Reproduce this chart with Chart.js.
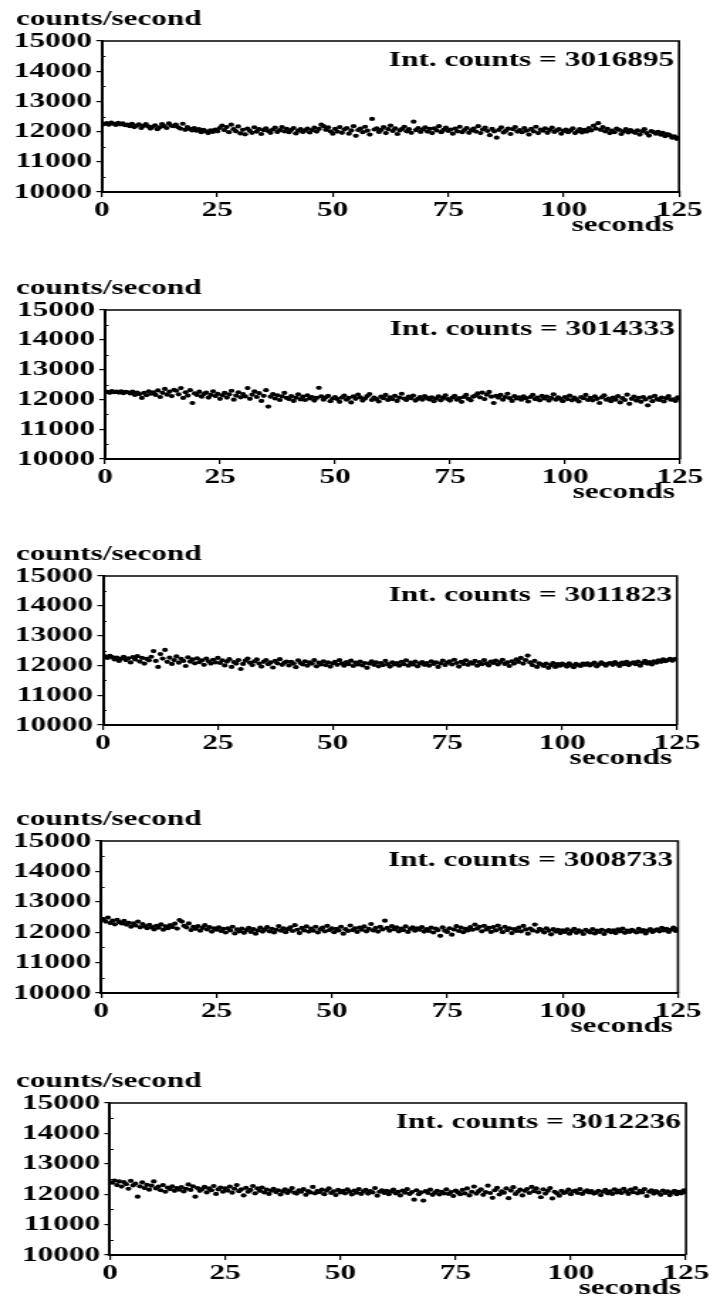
<!DOCTYPE html>
<html>
<head>
<meta charset="utf-8">
<script src="https://cdn.jsdelivr.net/npm/chart.js@4.4.1/dist/chart.umd.min.js"></script>
<style>
  html, body { margin: 0; padding: 0; background: #fff; }
  body { width: 712px; height: 1303px; position: relative; overflow: hidden; }
  .panel { position: absolute; left: 0; transform-origin: 0 0; }
</style>
</head>
<body>
<script>
// counts/second, two readings per second (0.5 s apart)
const run1 = [
  12250,12280,12230,12300,12260,12220,12290,12240,12270,12210,
  12230,12180,12260,12150,12200,12240,12120,12190,12250,12170,
  12100,12160,12210,12080,12140,12250,12180,12120,12270,12200,
  12180,12230,12140,12100,12260,12060,12150,12090,12040,12120,
  12030,12080,11980,12060,12010,11950,12040,11990,12070,12010,
  12120,12200,12050,12150,11980,12230,12080,12010,12170,11940,
  12060,11910,12100,12030,11960,12140,12000,12080,11920,12050,
  12110,12020,11960,12070,12130,11990,12050,12150,12010,12090,
  11980,12060,12120,11940,12030,12080,11990,12040,12100,11970,
  12050,12130,12000,12090,12230,12180,12060,12140,12010,11930,
  12090,12000,12150,11960,12070,12120,11930,12040,12180,11860,
  12050,12100,11980,12160,12030,11900,12420,12070,12110,11990,
  12060,12150,11950,12080,12200,12020,12110,11920,12040,12090,
  12160,12010,12080,11960,12330,12050,12120,11990,12070,12140,
  12000,12090,11950,12110,12040,12180,11980,12060,12130,12020,
  12070,11930,12100,12010,12160,11980,12050,12120,11960,12040,
  12100,12000,12180,11950,12070,12130,12020,11880,12090,12010,
  11800,12060,12140,11970,12030,12100,11920,12080,12150,12000,
  12050,11980,12120,12030,11900,12090,12010,12160,11950,12070,
  12030,12110,11960,12060,12130,11990,12040,12080,11930,12020,
  12070,11980,12040,12110,11950,12010,12080,11970,12060,12000,
  12120,12040,12200,12100,12280,12060,12150,12010,12090,11950,
  12030,11980,12100,12060,11920,12010,12080,11970,12050,12000,
  11960,12040,11900,12010,12080,11950,11870,12020,11980,11930,
  11990,11900,11960,11850,11920,11880,11800,11840,11760,11790
];
const run2 = [
  12250,12220,12280,12240,12260,12230,12270,12210,12250,12240,
  12200,12260,12150,12230,12180,12050,12220,12140,12270,12190,
  12240,12150,12300,12080,12220,12350,12160,12260,12110,12320,
  12290,12170,12380,12050,12240,12130,12310,11880,12200,12150,
  12260,12090,12180,12230,12060,12150,12270,12110,12190,12020,
  12140,12220,12060,12170,12290,11990,12130,12240,12070,12180,
  12100,12380,12020,12160,12270,12080,12210,11950,12120,12310,
  11760,12090,12180,12030,12140,11980,12100,12220,12050,12010,
  12110,11950,12060,12170,12000,12090,11980,12140,12030,12080,
  11960,12050,12390,12100,11990,12070,12120,11940,12030,12080,
  12010,11920,12060,12130,11990,12050,11900,12100,12020,12160,
  12070,11960,12030,12110,12180,11980,12060,12010,11930,12090,
  12040,12150,11980,12070,12010,12120,11950,12060,12190,12030,
  11980,12090,12040,12130,11960,12020,12080,11990,12110,12050,
  12000,12070,11940,12030,12100,11970,12050,12140,12010,11960,
  12060,12120,11990,12040,11920,12080,12150,12020,11970,12090,
  12130,12200,12070,12230,12010,12160,12250,12090,11880,12120,
  12060,12150,11990,12080,12190,12040,11950,12110,12030,12070,
  11990,12100,12040,11930,12080,12150,12010,12060,11970,12120,
  12030,12090,11960,12050,12170,11990,12070,12020,11940,12080,
  12010,12130,11970,12060,12000,11930,12080,12040,12150,11980,
  12050,11970,12100,12020,11880,12070,12140,11990,12030,11940,
  12060,11990,12110,11900,12040,11980,12160,11850,12020,12090,
  11960,12050,11920,12080,12000,11800,12070,11940,12120,12010,
  11980,12060,11930,12040,12110,11990,12000,11950,12070,12020
];
const run3 = [
  12300,12250,12320,12280,12200,12260,12150,12230,12290,12180,
  12240,12100,12280,12200,12310,12130,12250,12060,12220,12170,
  12290,12480,12150,11950,12380,12230,12520,12120,12260,12050,
  12180,12300,12090,12220,12150,11980,12270,12130,12200,12070,
  12240,12110,12170,12020,12230,12140,12060,12190,12100,12250,
  12080,12170,12000,12130,12210,11950,12110,12060,12180,11880,
  12050,12160,12230,12090,12010,12140,12200,12060,11960,12120,
  12180,12040,12100,11930,12150,12070,12210,12020,12090,12130,
  12000,12120,12060,11940,12170,12080,12030,12140,11990,12100,
  12060,12180,11970,12090,12030,12140,12010,12100,11960,12070,
  12120,12020,12180,12070,11990,12110,12040,12160,11980,12090,
  12030,12130,12000,12080,11920,12060,12140,12020,12100,11970,
  12080,12010,12150,12040,11960,12100,12030,12080,11990,12120,
  12040,12170,11990,12090,12030,12130,11970,12060,12110,12020,
  12080,11990,12140,12050,12100,11950,12070,12160,12010,12090,
  12140,12030,12190,12080,11960,12120,12050,12170,12020,12100,
  12060,12150,11990,12110,12040,12180,12070,12000,12130,12080,
  12160,12030,12110,12190,12050,12100,11980,12140,12060,12200,
  12120,12250,12060,12180,12330,12100,12010,12150,11950,12070,
  12030,11980,12060,11920,12010,12080,11950,12040,11990,12060,
  12020,11960,12070,12000,11940,12050,12010,11980,12060,12020,
  12070,12000,12040,12090,11970,12030,12100,12050,11990,12060,
  12080,12020,12110,12050,11980,12090,12040,12120,12010,12070,
  12100,12040,12130,11990,12080,12150,12060,12110,12030,12140,
  12090,12170,12120,12200,12140,12180,12220,12160,12210,12230
];
const run4 = [
  12420,12350,12480,12300,12380,12260,12410,12330,12290,12370,
  12250,12310,12180,12290,12220,12350,12160,12270,12200,12130,
  12240,12170,12090,12210,12150,12260,12080,12190,12130,12230,
  12170,12280,12120,12400,12350,12210,12160,12290,12070,12180,
  12110,12200,12050,12140,12230,12090,12170,12020,12130,12080,
  12160,12040,12110,11990,12130,12060,12180,11960,12090,12030,
  12120,11980,12070,12140,12010,12100,11950,12060,12150,12020,
  12090,12170,12030,12110,11990,12080,12200,12050,12130,12000,
  12100,12160,12040,12230,12080,11970,12140,12060,12190,12020,
  12120,12050,12180,11990,12090,12150,12030,12210,12070,12130,
  12000,12110,12060,12180,11950,12100,12040,12220,12070,12130,
  12010,12150,12080,12190,12030,12110,12270,12060,12140,12020,
  12180,12090,12380,12140,12050,12200,12100,12160,12030,12120,
  12070,12190,12010,12110,12160,12050,12130,12080,12170,12020,
  12100,12040,12150,11990,12120,12070,11880,12160,12050,12010,
  12130,11920,12090,12200,12040,12150,12000,12110,12060,12170,
  12080,12250,12120,12180,12030,12210,12090,12140,12010,12170,
  12060,12220,12110,12000,12180,12070,12130,11970,12100,12040,
  12150,12030,12210,12090,11950,12120,12060,12250,12020,12110,
  12070,11990,12130,12050,11930,12100,12020,12080,11970,12060,
  12010,12090,11950,12040,12110,11980,12060,12020,11940,12080,
  12030,11990,12100,11960,12050,12010,12080,11940,12040,12070,
  12000,12060,11970,12090,12030,12120,11980,12050,12010,12080,
  12040,11990,12110,12020,12070,11960,12050,12100,12010,12060,
  12090,12030,12140,12060,12110,12010,12080,12150,12040,12100
];
const run5 = [
  12380,12450,12300,12420,12250,12400,12330,12180,12440,12290,
  12350,11920,12260,12390,12200,12310,12150,12280,12420,12190,
  12250,12130,12300,12080,12220,12170,12260,12110,12200,12150,
  12230,12090,12180,12320,12140,12260,11920,12200,12110,12170,
  12240,12060,12190,12130,12270,12010,12160,12220,12080,12190,
  12120,12250,12050,12180,12300,12100,12160,11960,12210,12080,
  12140,12270,12030,12190,12110,12220,12060,12150,12010,12120,
  12180,12070,12130,11990,12090,12160,12040,12110,12200,12050,
  12020,12130,12080,12170,11980,12100,12060,12240,12030,12110,
  12070,12150,12000,12120,12190,12040,12090,11970,12140,12060,
  12110,12030,12160,12080,11990,12120,12050,12170,12010,12090,
  12140,12020,12100,12060,12200,11950,12080,12130,12040,12110,
  12000,12090,12150,12030,12080,11960,12120,12050,12170,12010,
  12070,11820,12130,12000,12060,11790,12100,12040,12150,11980,
  12050,12110,11990,12080,12030,12160,12010,12070,11940,12120,
  12060,12000,12140,12030,12190,11960,12080,12250,12020,12100,
  12160,11980,12070,12280,12040,11880,12130,12210,11990,12090,
  12050,12190,11870,12120,12230,12010,12080,12150,11960,12110,
  12170,12040,12240,12100,12190,12060,11900,12160,12020,12110,
  12200,11860,12080,12030,11950,12110,12040,12070,12150,12000,
  12090,12120,12040,12170,12010,12080,12130,12060,12100,12020,
  12050,12110,11970,12080,12140,12030,12090,12010,12160,12060,
  12120,12040,12180,12090,12010,12150,12070,12200,12030,12110,
  12060,12170,11940,12080,12130,12020,12100,12050,11980,12120,
  12040,12090,11970,12060,12110,12000,12080,12030,12130,12070
];

const runs = [run1, run2, run3, run4, run5];
const intCounts = [3016895, 3014333, 3011823, 3008733, 3012236];
const yTicks = [10000, 11000, 12000, 13000, 14000, 15000];
const xTicks = [0, 25, 50, 75, 100, 125];
const yLabel = 'counts/second';
const xLabel = 'seconds';

// the scan is stretched sideways, so every panel is drawn narrow and widened
const STRETCH = 1.42;
// plot frame of each panel in page pixels: left, right, top, bottom
const frames = [
  [102, 679, 41, 192],
  [105, 680, 310, 459],
  [103, 677, 576, 725],
  [101, 678, 841, 993],
  [110, 686, 1103, 1255]
];

const FONT = { family: '"Liberation Serif", "DejaVu Serif", serif', size: 22, weight: 'bold' };
const ink = '#000';

// texts and frame lines that Chart.js has no slot for
const panelDecor = {
  id: 'panelDecor',
  afterDraw(chart, args, opts) {
    const { ctx, chartArea: a } = chart;
    const yScale = chart.scales.y;
    ctx.save();
    ctx.strokeStyle = ink;
    ctx.lineWidth = 1.6;
    ctx.beginPath();
    ctx.moveTo(a.left, a.top);
    ctx.lineTo(a.right, a.top);
    ctx.lineTo(a.right, a.bottom);
    ctx.stroke();
    // small inward ticks between the labelled ones
    ctx.lineWidth = 1;
    ctx.beginPath();
    for (let v = 10500; v < 15000; v += 1000) {
      const py = Math.round(yScale.getPixelForValue(v)) + 0.5;
      ctx.moveTo(a.left, py);
      ctx.lineTo(a.left + 2.5, py);
    }
    ctx.stroke();
    ctx.fillStyle = ink;
    ctx.font = 'bold 22px "Liberation Serif", "DejaVu Serif", serif';
    ctx.textBaseline = 'alphabetic';
    ctx.textAlign = 'left';
    ctx.fillText(yLabel, 16 / STRETCH, a.top - 16);
    ctx.textAlign = 'right';
    ctx.fillText('Int. counts = ' + opts.total, a.right - 5 / STRETCH, a.top + 25);
    ctx.fillText(xLabel, a.right - 5 / STRETCH, a.bottom + 39);
    ctx.restore();
  }
};

runs.forEach((vals, k) => {
  const [left, right, top, bottom] = frames[k];
  const box = document.createElement('div');
  box.className = 'panel';
  box.style.top = (top - 45) + 'px';
  box.style.width = (712 / STRETCH) + 'px';
  box.style.height = (bottom - top + 90) + 'px';
  box.style.transform = 'scaleX(' + STRETCH + ')';
  const canvas = document.createElement('canvas');
  box.appendChild(canvas);
  document.body.appendChild(box);

  const points = vals.map((v, i) => ({ x: (i + 1) * 125 / vals.length, y: v }));

  new Chart(canvas, {
    type: 'scatter',
    data: {
      datasets: [{
        data: points,
        pointRadius: 2.1,
        pointBorderWidth: 0,
        pointBackgroundColor: ink,
        showLine: false
      }]
    },
    options: {
      responsive: true,
      maintainAspectRatio: false,
      animation: false,
      devicePixelRatio: 1,
      layout: { padding: { top: 45, right: (712 - right) / STRETCH, bottom: 0, left: 0 } },
      plugins: {
        legend: { display: false },
        tooltip: { enabled: false },
        panelDecor: { total: intCounts[k] }
      },
      scales: {
        x: {
          type: 'linear',
          min: 0,
          max: 125,
          afterBuildTicks: s => { s.ticks = xTicks.map(v => ({ value: v })); },
          afterFit: s => { s.height = 45; },
          ticks: { color: ink, font: FONT, padding: 0, maxRotation: 0, autoSkip: false,
                   callback: v => String(v) },
          grid: { drawOnChartArea: false, tickLength: 5, color: ink, lineWidth: 1.2 },
          border: { color: ink, width: 2 }
        },
        y: {
          min: 10000,
          max: 15000,
          afterBuildTicks: s => { s.ticks = yTicks.map(v => ({ value: v })); },
          afterFit: s => { s.width = left / STRETCH; },
          ticks: { color: ink, font: FONT, padding: 3, autoSkip: false,
                   callback: v => String(v) },
          grid: { drawOnChartArea: false, tickLength: 4, color: ink, lineWidth: 1.2 },
          border: { color: ink, width: 2 }
        }
      }
    },
    plugins: [panelDecor]
  });
});
</script>
</body>
</html>
